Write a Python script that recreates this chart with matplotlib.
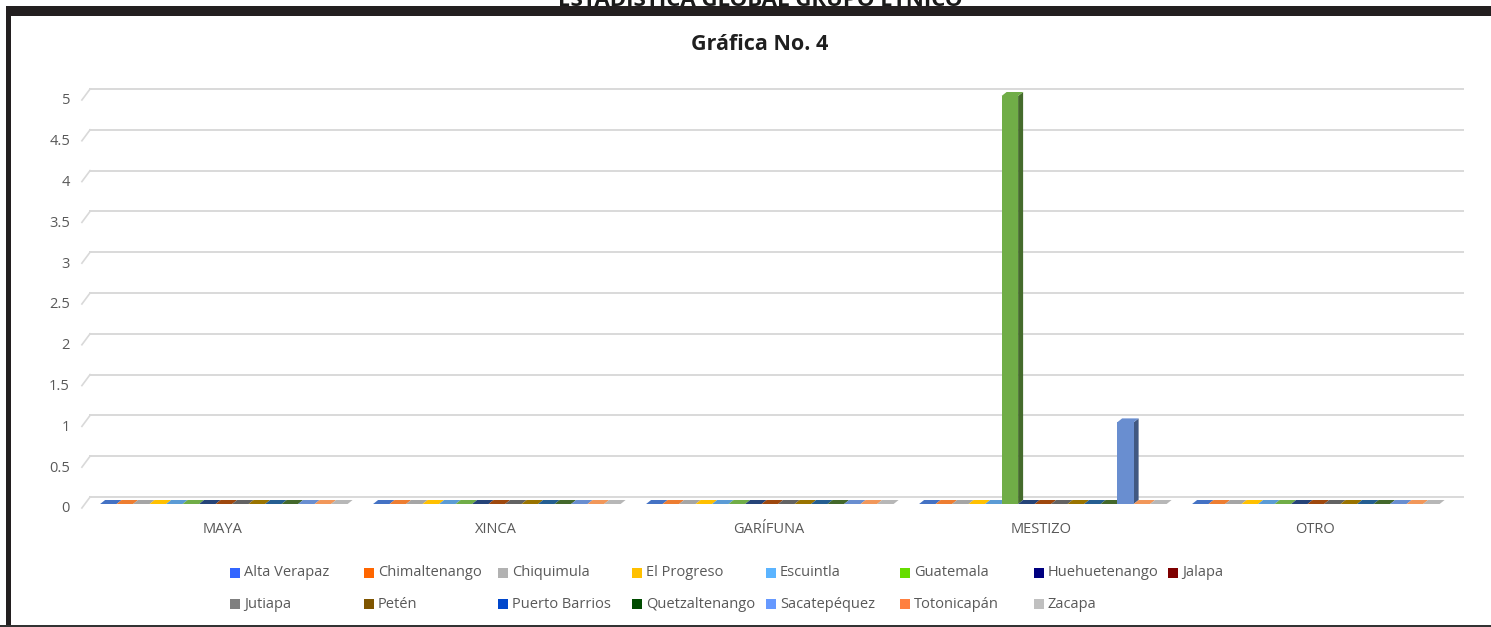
import matplotlib
matplotlib.use("Agg")
import matplotlib.pyplot as plt
from matplotlib.patches import Polygon, Rectangle
import matplotlib.colors as mcolors

# data
categorias = ["MAYA", "XINCA", "GARÍFUNA", "MESTIZO", "OTRO"]
departamentos = ["Alta Verapaz", "Chimaltenango", "Chiquimula", "El Progreso",
                 "Escuintla", "Guatemala", "Huehuetenango", "Jalapa",
                 "Jutiapa", "Petén", "Puerto Barrios", "Quetzaltenango",
                 "Sacatepéquez", "Totonicapán", "Zacapa"]
# one value per departamento, per grupo etnico
maya = [0, 0, 0, 0, 0, 0, 0, 0, 0, 0, 0, 0, 0, 0, 0]
xinca = [0, 0, 0, 0, 0, 0, 0, 0, 0, 0, 0, 0, 0, 0, 0]
garifuna = [0, 0, 0, 0, 0, 0, 0, 0, 0, 0, 0, 0, 0, 0, 0]
mestizo = [0, 0, 0, 0, 0, 5, 0, 0, 0, 0, 0, 0, 1, 0, 0]
otro = [0, 0, 0, 0, 0, 0, 0, 0, 0, 0, 0, 0, 0, 0, 0]
y_ticks = [0, 0.5, 1, 1.5, 2, 2.5, 3, 3.5, 4, 4.5, 5]

valores = [maya, xinca, garifuna, mestizo, otro]

# colours of the bars (office theme) and of the legend keys as they show
bar_colors = ["#4472C4", "#ED7D31", "#A5A5A5", "#FFC000", "#5B9BD5", "#70AD47",
              "#264478", "#9E480E", "#636363", "#997300", "#255E91", "#43682B",
              "#698ED0", "#F1975A", "#B7B7B7"]
legend_colors = ["#3366FF", "#FF6600", "#B2B2B2", "#FFC000", "#5BB4FF", "#66DD00",
                 "#000080", "#7F0000", "#7F7F7F", "#7F5500", "#0047CC", "#004C00",
                 "#6699FF", "#FF8040", "#C0C0C0"]

W, H = 1491, 627
fig = plt.figure(figsize=(W / 100, H / 100), dpi=100)
fig.patch.set_facecolor("white")

txt = "#595959"
font = ["Open Sans", "DejaVu Sans"]

# axes = front plane of the 3d chart
px_x, px_y = 273.0, 81.6
ymax = 5.3
ax = fig.add_axes([86 / W, 1 - 507 / H, 5 * px_x / W, ymax * px_y / H])
ax.set_xlim(0, 5)
ax.set_ylim(0, ymax)
for s in ax.spines.values():
    s.set_visible(False)

# back wall gridlines with the little perspective stubs on the left
wx, wy = 15 / px_x, 10 / px_y
for v in y_ticks:
    ax.plot([wx - 0.04, 5.044], [v + wy, v + wy], color="#D9D9D9", lw=1.4,
            clip_on=False, zorder=1)
    ax.plot([-0.015, wx - 0.04], [v - 0.012, v + wy], color="#D9D9D9", lw=1.2,
            clip_on=False, zorder=1)

# 3d columns
n = len(departamentos)
bw = 16.5 / px_x
base = 3 / px_y
dx, dy = 5 / px_x, 4 / px_y
z = 3
for i, fila in enumerate(valores):
    left0 = i + 0.5 - n * bw / 2 + 0.005
    for j, v in enumerate(fila):
        c = bar_colors[j]
        dark = tuple(k * 0.62 for k in mcolors.to_rgb(c))
        x0 = left0 + j * bw
        x1 = x0 + bw
        y0, y1 = base, base + v
        side = Polygon([(x1, y0), (x1 + dx, y0 + dy), (x1 + dx, y1 + dy), (x1, y1)],
                       closed=True, facecolor=dark, edgecolor="none",
                       clip_on=False, zorder=z)
        ax.add_patch(side)
        if v > 0:
            ax.add_patch(Rectangle((x0, y0), bw, v, facecolor=c, edgecolor="none",
                                   clip_on=False, zorder=z + 1))
        top = Polygon([(x0, y1), (x1, y1), (x1 + dx, y1 + dy), (x0 + dx, y1 + dy)],
                      closed=True, facecolor=c, edgecolor="none",
                      clip_on=False, zorder=z + 1)
        ax.add_patch(top)
        z += 2

ax.set_yticks(y_ticks)
ax.set_yticklabels([("%g" % v) for v in y_ticks])
ax.set_xticks([i + 0.5 for i in range(len(categorias))])
ax.set_xticklabels(categorias)
ax.tick_params(axis="y", length=0, pad=11.5, labelsize=10.5, labelcolor=txt)
ax.tick_params(axis="x", length=0, pad=10.5, labelsize=10.5, labelcolor=txt)
for lab in ax.get_xticklabels() + ax.get_yticklabels():
    lab.set_family(font)

# title
fig.text(760 / W, 1 - 45 / H, "Gráfica No. 4", ha="center", va="center",
         fontsize=15.5, fontweight="bold", color="#1f1f1f", family=font)
# page heading cut by the top edge
fig.text(760 / W, 1 - 6 / H, "ESTADISTICA GLOBAL GRUPO ETNICO", ha="center",
         va="baseline", fontsize=16, fontweight="bold", color="#1a1a1a",
         family=font)

# legend, two rows of eight equal columns
for k, nombre in enumerate(departamentos):
    col, row = k % 8, k // 8
    lx = 230 + col * 134
    ly = 573 + row * 31
    fig.patches.append(Rectangle((lx / W, 1 - (ly + 5) / H), 10 / W, 10 / H,
                                 transform=fig.transFigure,
                                 facecolor=legend_colors[k], edgecolor="none"))
    fig.text((lx + 14) / W, 1 - ly / H, nombre, ha="left", va="center",
             fontsize=10.5, color=txt, family=font)

# frame of the page
frame = "#231F20"
fig.patches.append(Rectangle((6 / W, 1 - 16 / H), (W - 6) / W, 10 / H,
                             transform=fig.transFigure, facecolor=frame,
                             edgecolor="none"))
fig.patches.append(Rectangle((6 / W, 0), 5 / W, 1 - 16 / H,
                             transform=fig.transFigure, facecolor=frame,
                             edgecolor="none"))
fig.patches.append(Rectangle((0, 0), 1, 2.5 / H, transform=fig.transFigure,
                             facecolor="#333333", edgecolor="none"))

fig.savefig("out.png", dpi=100)
